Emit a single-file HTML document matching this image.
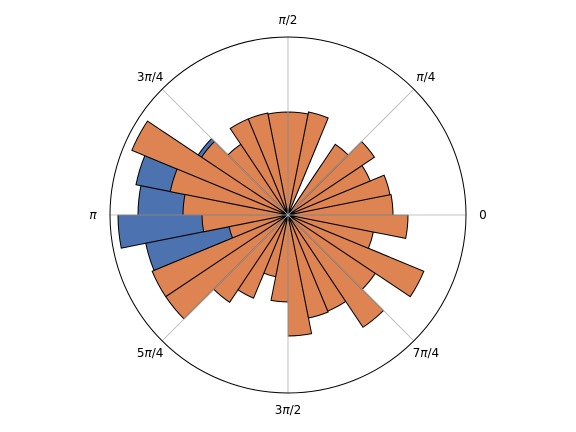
<!DOCTYPE html>
<html><head><meta charset="utf-8"><style>
html,body{margin:0;padding:0;background:#fff;}
svg{display:block;font-family:"DejaVu Sans","Liberation Sans",sans-serif;}
</style></head><body>
<svg id="chart" width="576" height="432" viewBox="0 0 576 432">
<g id="bars"></g>
<g id="grid"></g>
<circle cx="288" cy="215" r="178" fill="none" stroke="#000" stroke-width="1"/>
<g id="labels" font-size="12" fill="#000"></g>
</svg>
<script>
// bins: 32 equal wedges, edge-aligned starting at angle 0
const binCount = 32;
const orangeValues = [105,104,89,104,85,0,105,103,103,104,104,85,104,169,120,105,86,60,147,147,105,90,63,87,121,105,104,135,105,147,87,120];
const blueValues   = [80,70,60,75,60,0,80,85,90,80,75,70,108,150,155,150,170,145,146,120,90,70,50,60,90,80,75,100,80,110,70,90];
const tickAngles = [0,45,90,135,180,225,270,315];
const tickPrefix = ["0","","","3","","5","3","7"];
const tickSuffix = ["","/4","/2","/4","","/4","/2","/4"];
const RMAX_VALUE = 178;

const CX=288, CY=215, R=178;
const rScale = v => v / RMAX_VALUE * R;
const aScale = i => i * 2*Math.PI / binCount;
const NS="http://www.w3.org/2000/svg";
const pt=(r,a)=>[CX + r*Math.cos(a), CY - r*Math.sin(a)];

function wedge(i,v,color,series){
  const r=rScale(v);
  const a0=aScale(i), a1=aScale(i+1);
  const [x0,y0]=pt(r,a0), [x1,y1]=pt(r,a1);
  const p=document.createElementNS(NS,'path');
  p.setAttribute('d',`M${CX},${CY} L${x0},${y0} A${r},${r} 0 0 0 ${x1},${y1} Z`);
  p.setAttribute('fill',color);p.setAttribute('stroke','#000');p.setAttribute('stroke-width','1');
  
  
  document.getElementById('bars').appendChild(p);
}
blueValues.forEach((v,i)=>{ if(v>0) wedge(i,v,'#4c72b0','blue'); });
orangeValues.forEach((v,i)=>{ if(v>0) wedge(i,v,'#dd8452','orange'); });

const grid=document.getElementById('grid');
tickAngles.forEach((deg,i)=>{
  const a=deg*Math.PI/180;
  const [x,y]=pt(R,a);
  const l=document.createElementNS(NS,'line');
  l.setAttribute('x1',CX);l.setAttribute('y1',CY);l.setAttribute('x2',x);l.setAttribute('y2',y);
  l.setAttribute('stroke','#b0b0b0');l.setAttribute('stroke-width','0.8');
  
  
  grid.appendChild(l);
  const [tx,ty]=pt(R+17,a);
  const t=document.createElementNS(NS,'text');
  t.setAttribute('x',tx);t.setAttribute('y',ty+4);t.setAttribute('text-anchor','middle');
  
  
  if(deg===0){ t.textContent='0'; }
  else {
    t.appendChild(document.createTextNode(tickPrefix[i]));
    const pi=document.createElementNS(NS,'tspan');
    pi.setAttribute('font-style','italic');
    pi.textContent='π';
    t.appendChild(pi);
    t.appendChild(document.createTextNode(tickSuffix[i]));
  }
  document.getElementById('labels').appendChild(t);
});
</script>
</body></html>
